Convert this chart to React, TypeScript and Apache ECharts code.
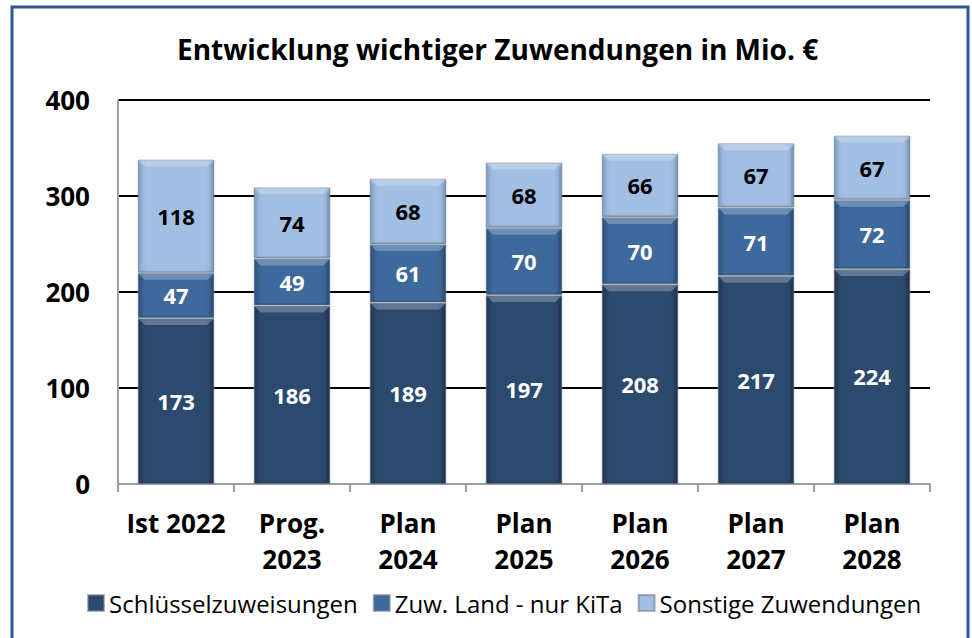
import React, { useEffect, useRef } from "react";
import * as echarts from "echarts";

const categories = ["Ist 2022", "Prog.\n2023", "Plan\n2024", "Plan\n2025", "Plan\n2026", "Plan\n2027", "Plan\n2028"];
const schluessel = [173, 186, 189, 197, 208, 217, 224];
const zuwLand = [47, 49, 61, 70, 70, 71, 72];
const sonstige = [118, 74, 68, 68, 66, 67, 67];
const seriesNames = ["Schlüsselzuweisungen", "Zuw. Land - nur KiTa", "Sonstige Zuwendungen"];
const yMin = 0;
const yMax = 400;
const yStep = 100;

const FONT = "'Open Sans', 'Noto Sans', sans-serif";
const BAR_FRAC = 0.66;

function hGrad(edge: string, mid: string) {
  return new echarts.graphic.LinearGradient(0, 0, 1, 0, [
    { offset: 0, color: edge },
    { offset: 0.1, color: mid },
    { offset: 0.9, color: mid },
    { offset: 1, color: edge },
  ]);
}

export default function App() {
  const ref = useRef<HTMLDivElement>(null);
  useEffect(() => {
    if (!ref.current) return;
    const chart = echarts.init(ref.current, undefined, { renderer: "svg" });
    const colors = [
      hGrad("#22395a", "#2c4a6e"),
      hGrad("#2f5583", "#3d699d"),
      hGrad("#89a8d0", "#a2bee2"),
    ];
    const data = [schluessel, zuwLand, sonstige];
    const labelColors = ["#ffffff", "#ffffff", "#000000"];

    // segment extents (stacking) for the bevel overlay
    const segs: number[][] = [];
    categories.forEach((_, ci) => {
      let base = 0;
      data.forEach((d) => {
        segs.push([ci, base, base + d[ci]]);
        base += d[ci];
      });
    });

    chart.setOption({
      animation: false,
      backgroundColor: "#ffffff",
      title: {
        text: "Entwicklung wichtiger Zuwendungen in Mio. €",
        left: 172,
        top: 30,
        textStyle: { fontFamily: FONT, fontSize: 28, fontWeight: "bold", color: "#000" },
      },
      graphic: [
        {
          type: "rect",
          shape: { x: 12, y: 7, width: 956, height: 640 },
          style: { fill: "none", stroke: "#2f5592", lineWidth: 3 },
          silent: true,
        },
      ],
      legend: {
        bottom: 18,
        left: 82,
        itemWidth: 16,
        itemHeight: 16,
        itemGap: 15,
        icon: "rect",
        textStyle: { fontFamily: FONT, fontSize: 24, color: "#000" },
        data: seriesNames,
      },
      grid: { left: 118, right: 42, top: 100, bottom: 154 },
      xAxis: {
        type: "category",
        data: categories,
        axisLine: { lineStyle: { color: "#a0a0a0", width: 2 } },
        axisTick: { show: true, length: 8, lineStyle: { color: "#a0a0a0", width: 2 } },
        axisLabel: {
          fontFamily: FONT,
          fontSize: 26,
          fontWeight: "bold",
          color: "#000",
          lineHeight: 36,
          margin: 21,
          interval: 0,
        },
      },
      yAxis: {
        type: "value",
        min: yMin,
        max: yMax,
        interval: yStep,
        axisLine: { show: true, lineStyle: { color: "#a0a0a0", width: 2 } },
        axisTick: { show: false },
        splitLine: { lineStyle: { color: "#000", width: 2 } },
        axisLabel: {
          fontFamily: FONT,
          fontSize: 26,
          fontWeight: "bold",
          color: "#000",
          margin: 28,
        },
      },
      series: [
        ...data.map((d, i) => ({
          name: seriesNames[i],
          type: "bar",
          stack: "total",
          barCategoryGap: `${Math.round((1 - BAR_FRAC) * 100)}%`,
          data: d,
          itemStyle: {
            color: colors[i],
            borderColor: "rgba(120,130,145,0.6)",
            borderWidth: 1,
          },
          label: {
            show: true,
            position: "inside",
            fontFamily: FONT,
            fontSize: 22,
            fontWeight: "bold",
            color: labelColors[i],
          },
        })),
        {
          name: "bevel",
          type: "custom",
          silent: true,
          z: 3,
          encode: { x: 0, y: 2 },
          data: segs,
          renderItem: (_params: any, api: any) => {
            const c = api.value(0);
            const lo = api.value(1);
            const hi = api.value(2);
            const t = api.coord([c, hi]);
            const b = api.coord([c, lo]);
            const w = api.size([1, 0])[0] * BAR_FRAC;
            const l = t[0] - w / 2;
            const r = t[0] + w / 2;
            const top = t[1];
            const bot = b[1];
            const e = 7;
            return {
              type: "group",
              children: [
                {
                  type: "polygon",
                  shape: { points: [[l, top], [r, top], [r - e, top + e], [l + e, top + e]] },
                  style: { fill: "rgba(255,255,255,0.25)" },
                },
                {
                  type: "polygon",
                  shape: { points: [[l, top], [l + e * 0.5, top + e], [l + e * 0.5, bot - e * 0.3], [l, bot]] },
                  style: { fill: "rgba(0,0,0,0.05)" },
                },
                {
                  type: "polygon",
                  shape: { points: [[r, top], [r - e * 0.5, top + e], [r - e * 0.5, bot - e * 0.3], [r, bot]] },
                  style: { fill: "rgba(0,0,0,0.1)" },
                },
                {
                  type: "polygon",
                  shape: { points: [[l, bot], [r, bot], [r - e * 0.5, bot - e * 0.3], [l + e * 0.5, bot - e * 0.3]] },
                  style: { fill: "rgba(0,0,0,0.12)" },
                },
              ],
            };
          },
        },
      ],
    });
    return () => chart.dispose();
  }, []);
  return <div ref={ref} style={{ position: "fixed", left: 0, top: 0, width: 972, height: 638 }} />;
}
